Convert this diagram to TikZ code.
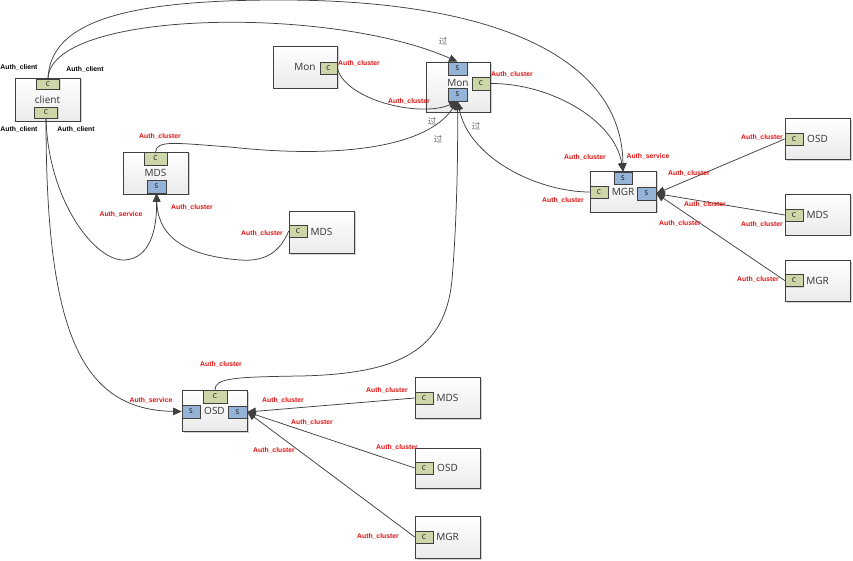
\documentclass[tikz,border=0pt]{standalone}
\usepackage{fontspec}
\setmainfont{Open Sans}
\newfontfamily\lblfont{Liberation Sans}
\newfontfamily\cjk{Noto Sans CJK SC}
\usetikzlibrary{
  arrows.meta,
  positioning,
  shadows
}
\definecolor{cephline}{HTML}{404040}
\definecolor{cephc}{HTML}{CDD6A8}
\definecolor{cephs}{HTML}{95B3D7}
\definecolor{cephred}{HTML}{DD1111}

\begin{document}
\begin{tikzpicture}[
  x=1pt, y=-1pt,
  box/.style={draw=cephline, line width=0.7pt, top color=white, bottom color=black!8,
    minimum width=65pt, minimum height=41pt, inner sep=0pt,
    font=\fontsize{10}{11}\selectfont, text=black!80,
    drop shadow={shadow xshift=1.5pt, shadow yshift=-1.5pt, fill=black!35}},
  port/.style={draw=cephline, line width=0.6pt, minimum width=18pt, minimum height=12pt,
    inner sep=0pt, font=\fontsize{6.5}{7}\selectfont,
    drop shadow={shadow xshift=1.2pt, shadow yshift=-1.2pt, fill=black!30}},
  cport/.style={port, fill=cephc},
  sport/.style={port, fill=cephs},
  wide/.style={minimum width=23pt},
  conn/.style={draw=cephline, line width=0.75pt, -{Triangle[length=8.5pt, width=7.5pt]}},
  authlbl/.style={font=\lblfont\bfseries\fontsize{6.8}{7}\selectfont, text=cephred, inner sep=0pt},
  clientlbl/.style={authlbl, text=black},
  guo/.style={font=\cjk\fontsize{8.5}{8.5}\selectfont, text=black!60, inner sep=0pt}
]
  \useasboundingbox (0,0) rectangle (853,561);

  \node[box, minimum height=43pt] (client) at (47.5,99.5) {client};
  \node[cport, wide, minimum height=10pt] (client-c1) at (48,84) {C};
  \node[cport, wide, minimum height=11pt] (client-c2) at (46,112.5) {C};

  \node[box, minimum width=64pt, minimum height=42pt] (monL) at (305,67) {Mon};
  \node[cport, minimum width=17pt] (monL-c) at (328.5,68) {C};

  \node[box, minimum width=64pt, minimum height=50pt, text depth=8pt] (monC) at (458,87) {Mon};
  \node[sport, minimum width=19pt, minimum height=13pt] (monC-s1) at (457.5,68.5) {S};
  \node[sport, minimum width=19pt, minimum height=13pt] (monC-s2) at (457.5,94.5) {S};
  \node[cport, minimum height=13pt] (monC-c) at (481,83.5) {C};

  \node[box, minimum height=42pt] (mdsL) at (155.5,173) {MDS};
  \node[cport, wide, minimum height=13pt] (mdsL-c) at (155.5,158.5) {C};
  \node[sport, minimum width=19pt, minimum height=13pt] (mdsL-s) at (156.5,186.5) {S};

  \node[box, minimum height=42pt] (mdsS) at (321.5,232) {MDS};
  \node[cport] (mdsS-c) at (298,231) {C};

  \node[box, minimum width=66pt] (mgrC) at (623,191.5) {MGR};
  \node[sport] (mgrC-s1) at (623,178) {S};
  \node[cport] (mgrC-c) at (599,192) {C};
  \node[sport, minimum width=19pt, minimum height=13pt] (mgrC-s2) at (646.5,193.5) {S};

  \node[box] (osdR) at (817.5,139) {OSD};
  \node[cport] (osdR-c) at (794,139) {C};
  \node[box] (mdsR) at (817.5,214.5) {MDS};
  \node[cport] (mdsR-c) at (794,215) {C};
  \node[box] (mgrR) at (817.5,280.5) {MGR};
  \node[cport] (mgrR-c) at (794,280.5) {C};

  \node[box] (osdB) at (214.5,410.5) {OSD};
  \node[cport, wide, minimum width=24pt, minimum height=13pt] (osdB-c) at (215,396.5) {C};
  \node[sport, minimum height=13pt] (osdB-s1) at (191,411.5) {S};
  \node[sport, minimum width=19pt] (osdB-s2) at (237.5,412) {S};

  \node[box] (mdsB) at (447.5,397.5) {MDS};
  \node[cport] (mdsB-c) at (424,398) {C};
  \node[box, minimum height=40pt] (osdX) at (447.5,468) {OSD};
  \node[cport] (osdX-c) at (424,468) {C};
  \node[box, minimum height=42pt] (mgrB) at (447.5,537) {MGR};
  \node[cport] (mgrB-c) at (424,537) {C};

  \draw[conn] (client-c1.north) .. controls (50,20) and (130,0) .. (280,0)
    .. controls (500,0) and (622,60) .. (mgrC-s1.north);
  \draw[conn] (client-c1.north) .. controls (50,10) and (330,5) .. (monC-s1.north);
  \draw[conn] (monC-c.east) .. controls (550,83) and (615,120) .. (mgrC-s1.north);
  \draw[conn] (monL-c.east) .. controls (345,100) and (420,118) .. (monC-s2.south);
  \draw[conn] (mdsL-c.north) .. controls (157,140) and (175,143) .. (230,147)
    .. controls (330,158) and (425,150) .. (monC-s2.south);
  \draw[conn] (mgrC-c.west) .. controls (540,192) and (470,160) .. (monC-s2.south);
  \draw[conn] (osdB-c.north) .. controls (215,378) and (235,377) .. (300,376)
    .. controls (400,374) and (445,350) .. (452,280)
    .. controls (457,220) and (458,150) .. (monC-s2.south);
  \draw[conn] (client-c2.south) .. controls (48,200) and (95,262) .. (125,260)
    .. controls (150,258) and (157,230) .. (mdsL-s.south);
  \draw[conn] (mdsS-c.west) .. controls (280,252) and (265,262) .. (240,260)
    .. controls (190,256) and (158,240) .. (mdsL-s.south);
  \draw[conn] (client-c2.south) .. controls (46,330) and (80,410) .. (osdB-s1.west);

  \draw[conn] (mdsB-c.west) -- (osdB-s2.east);
  \draw[conn] (osdX-c.west) -- (osdB-s2.east);
  \draw[conn] (mgrB-c.west) -- (osdB-s2.east);
  \draw[conn] (osdR-c.west) -- (mgrC-s2.east);
  \draw[conn] (mdsR-c.west) -- (mgrC-s2.east);
  \draw[conn] (mgrR-c.west) -- (mgrC-s2.east);

  \node[clientlbl] (l-client1) at (19,67) {Auth\_client};
  \node[clientlbl] (l-client2) at (85,69) {Auth\_client};
  \node[clientlbl] (l-client3) at (19,129) {Auth\_client};
  \node[clientlbl] (l-client4) at (76,129) {Auth\_client};

  \node[authlbl] (l-monL) at (359,63) {Auth\_cluster};
  \node[authlbl] (l-monC1) at (512,74) {Auth\_cluster};
  \node[authlbl] (l-monC2) at (409,101) {Auth\_cluster};
  \node[authlbl] (l-mdsL1) at (160,136) {Auth\_cluster};
  \node[authlbl] (l-mdsL2) at (121,214) {Auth\_service};
  \node[authlbl] (l-mdsL3) at (192,207) {Auth\_cluster};
  \node[authlbl] (l-mdsS) at (262,233) {Auth\_cluster};
  \node[authlbl] (l-mgrC1) at (585,157) {Auth\_cluster};
  \node[authlbl] (l-mgrC2) at (648,156) {Auth\_service};
  \node[authlbl] (l-mgrC3) at (563,200) {Auth\_cluster};
  \node[authlbl] (l-osdR) at (762,137) {Auth\_cluster};
  \node[authlbl] (l-mdsR) at (762,224) {Auth\_cluster};
  \node[authlbl] (l-mgrR) at (758,279) {Auth\_cluster};
  \node[authlbl] (l-mgrC4) at (689,173) {Auth\_cluster};
  \node[authlbl] (l-mgrC5) at (705,204) {Auth\_cluster};
  \node[authlbl] (l-mgrC6) at (680,223) {Auth\_cluster};
  \node[authlbl] (l-osdB1) at (221,364) {Auth\_cluster};
  \node[authlbl] (l-osdB2) at (151,400) {Auth\_service};
  \node[authlbl] (l-osdB3) at (283,400) {Auth\_cluster};
  \node[authlbl] (l-osdB4) at (312,422) {Auth\_cluster};
  \node[authlbl] (l-osdB5) at (274,450) {Auth\_cluster};
  \node[authlbl] (l-mdsB) at (387,390) {Auth\_cluster};
  \node[authlbl] (l-osdX) at (397,447) {Auth\_cluster};
  \node[authlbl] (l-mgrB) at (378,536) {Auth\_cluster};

  \node[guo] (g1) at (443,41) {过};
  \node[guo] (g2) at (432,121) {过};
  \node[guo] (g3) at (438,139) {过};
  \node[guo] (g4) at (476,126) {过};

\end{tikzpicture}
\end{document}
